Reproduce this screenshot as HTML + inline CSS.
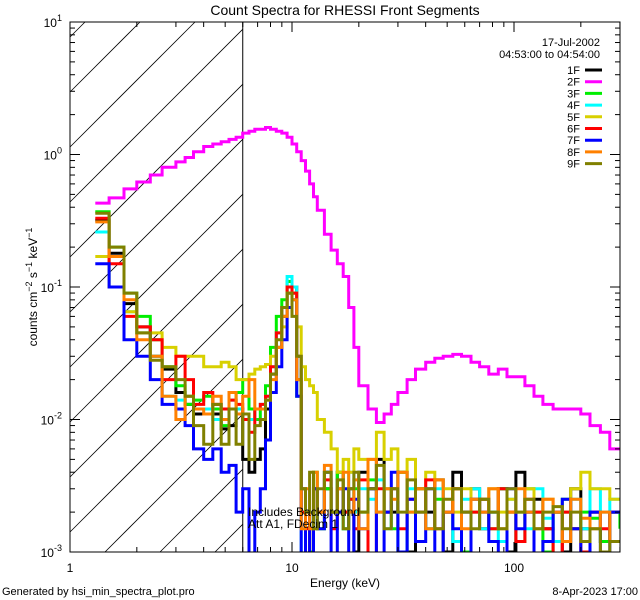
<!DOCTYPE html>
<html><head><meta charset="utf-8"><style>
html,body{margin:0;padding:0;background:#fff;width:640px;height:600px;overflow:hidden;}
svg{display:block;font-family:"Liberation Sans",sans-serif;}
</style></head><body>
<svg id="chart" width="640" height="600" viewBox="0 0 640 600" xmlns="http://www.w3.org/2000/svg">
<rect width="640" height="600" fill="#fff"/>
<defs><clipPath id="pc"><rect x="70" y="22" width="550" height="530"/></clipPath></defs>
<text x="345" y="15" font-size="14" text-anchor="middle">Count Spectra for RHESSI Front Segments</text>
<g id="hatch"></g>
<g id="series" clip-path="url(#pc)"></g>
<g id="axes"></g>
<text transform="translate(37,287) rotate(-90)" font-size="12" text-anchor="middle">counts cm<tspan dy="-5" font-size="9">−2</tspan><tspan dy="5"> s</tspan><tspan dy="-5" font-size="9">−1</tspan><tspan dy="5"> keV</tspan><tspan dy="-5" font-size="9">−1</tspan></text>
<text x="345" y="587" font-size="12" text-anchor="middle">Energy (keV)</text>
<text x="248" y="516" font-size="12">Includes Background</text>
<text x="248" y="528" font-size="12">Att A1, FDecim 1</text>
<text x="2" y="595" font-size="11">Generated by hsi_min_spectra_plot.pro</text>
<text x="638" y="595" font-size="11" text-anchor="end">8-Apr-2023 17:00</text>
<text x="600" y="46" font-size="11" text-anchor="end">17-Jul-2002</text>
<text x="600" y="58" font-size="11" text-anchor="end">04:53:00 to 04:54:00</text>
<g id="legend"></g>
</svg>
<script>
const edges=[1.3,1.5,1.75,2.0,2.3,2.6,3.0,3.3,3.6,4.0,4.4,4.8,5.2,5.6,6.0,6.4,6.8,7.2,7.6,8.0,8.5,9.0,9.5,10,10.5,11,11.5,12,12.5,13,14,15,16,17,18,19,20,22,24,26,28,30,33,36,40,44,48,53,58,64,70,77,85,93,102,112,123,135,150,165,180,200,220,245,270,300];
const seriesNames=["1F","2F","3F","4F","5F","6F","7F","8F","9F"];
const seriesColors=["#000000","#ff00ff","#00ee00","#00ffff","#d8d000","#ff0000","#0000ff","#ff8000","#808000"];
const s1F=[0.32,0.18,0.075,0.05,0.03,0.024,0.016,0.013,0.011,0.011,0.011,0.0085,0.009,0.012,0.005,0.004,0.005,0.006,0.012,0.022,0.035,0.06,0.09,0.1,0.03,0.003,0.002,0.001,0.003,0.002,0.003,0.002,0.004,0.002,0.003,0.001,0.004,0.003,0.005,0.002,0.002,0.004,0.001,0.003,0.002,0.0035,0.001,0.004,0.002,0.003,0.0015,0.002,0.003,0.001,0.004,0.002,0.0025,0.0015,0.002,0.001,0.003,0.0015,0.002,0.0012,0.002];
const s2F=[0.43,0.47,0.55,0.62,0.7,0.8,0.88,0.95,1.05,1.15,1.2,1.25,1.3,1.35,1.45,1.5,1.55,1.55,1.6,1.55,1.5,1.45,1.35,1.2,1.05,0.9,0.75,0.6,0.48,0.38,0.25,0.19,0.15,0.12,0.07,0.035,0.018,0.012,0.0095,0.011,0.013,0.016,0.02,0.024,0.027,0.029,0.03,0.031,0.03,0.027,0.025,0.022,0.024,0.021,0.021,0.018,0.015,0.013,0.012,0.012,0.012,0.011,0.009,0.008,0.006];
const s3F=[0.37,0.2,0.09,0.06,0.04,0.025,0.018,0.013,0.014,0.015,0.012,0.009,0.012,0.016,0.02,0.012,0.01,0.012,0.018,0.035,0.06,0.08,0.11,0.09,0.015,0.002,0.002,0.001,0.004,0.0015,0.003,0.002,0.004,0.0015,0.0025,0.003,0.002,0.0035,0.002,0.003,0.0015,0.004,0.002,0.003,0.0015,0.0025,0.002,0.003,0.001,0.002,0.0025,0.0015,0.003,0.002,0.0012,0.003,0.002,0.001,0.002,0.0025,0.0015,0.002,0.0018,0.0012,0.002,0.0015];
const s4F=[0.26,0.1,0.065,0.045,0.03,0.015,0.014,0.015,0.012,0.012,0.01,0.012,0.014,0.012,0.011,0.01,0.012,0.013,0.015,0.025,0.045,0.07,0.12,0.1,0.02,0.0008,0.002,0.0015,0.003,0.002,0.004,0.002,0.003,0.0015,0.004,0.002,0.003,0.0025,0.0035,0.0015,0.003,0.0008,0.003,0.002,0.0015,0.003,0.002,0.0012,0.0025,0.003,0.0015,0.002,0.0012,0.0025,0.002,0.0015,0.003,0.0018,0.0012,0.002,0.0025,0.0015,0.003,0.002,0.0025];
const s5F=[0.17,0.1,0.065,0.045,0.045,0.035,0.03,0.03,0.03,0.025,0.025,0.027,0.025,0.02,0.02,0.022,0.024,0.025,0.026,0.03,0.035,0.05,0.1,0.09,0.05,0.025,0.02,0.018,0.016,0.01,0.008,0.006,0.004,0.005,0.004,0.006,0.005,0.005,0.008,0.005,0.006,0.004,0.005,0.003,0.004,0.0035,0.003,0.002,0.003,0.0025,0.002,0.003,0.002,0.0025,0.002,0.003,0.002,0.0025,0.002,0.002,0.003,0.004,0.003,0.003,0.0025];
const s6F=[0.33,0.15,0.06,0.05,0.04,0.02,0.03,0.02,0.013,0.016,0.013,0.012,0.014,0.013,0.01,0.008,0.012,0.013,0.015,0.025,0.045,0.07,0.1,0.09,0.02,0.002,0.0015,0.0007,0.003,0.002,0.0035,0.0015,0.003,0.002,0.0025,0.0015,0.0035,0.0008,0.003,0.002,0.003,0.0015,0.0025,0.002,0.0035,0.0015,0.002,0.003,0.0008,0.002,0.0025,0.0015,0.003,0.002,0.0012,0.0025,0.002,0.0015,0.0008,0.002,0.0015,0.001,0.002,0.0015,0.002];
const s7F=[0.15,0.1,0.04,0.03,0.02,0.013,0.012,0.009,0.006,0.005,0.006,0.004,0.0045,0.002,0.003,0.0008,0.002,0.003,0.007,0.016,0.025,0.04,0.07,0.08,0.015,0.0008,0.002,0.0008,0.003,0.0015,0.004,0.0008,0.002,0.003,0.0009,0.0025,0.0015,0.003,0.0008,0.002,0.004,0.001,0.0025,0.0012,0.003,0.0009,0.002,0.0015,0.0008,0.0025,0.002,0.0012,0.0008,0.003,0.0015,0.002,0.0009,0.0012,0.002,0.0025,0.0015,0.0008,0.002,0.001,0.002];
const s8F=[0.31,0.17,0.08,0.04,0.03,0.015,0.01,0.015,0.012,0.011,0.015,0.01,0.016,0.011,0.015,0.02,0.012,0.012,0.014,0.02,0.035,0.06,0.09,0.08,0.02,0.0015,0.003,0.0015,0.004,0.002,0.0045,0.002,0.003,0.004,0.002,0.0035,0.0015,0.005,0.002,0.003,0.0025,0.004,0.002,0.003,0.0015,0.0035,0.002,0.003,0.0015,0.0025,0.002,0.003,0.0015,0.002,0.003,0.002,0.0015,0.0025,0.002,0.0012,0.0025,0.0018,0.0015,0.002,0.0012];
const s9F=[0.36,0.2,0.09,0.045,0.028,0.025,0.02,0.015,0.009,0.0065,0.013,0.0065,0.012,0.0065,0.011,0.005,0.009,0.01,0.014,0.022,0.04,0.07,0.09,0.06,0.03,0.003,0.002,0.004,0.0015,0.003,0.004,0.002,0.0035,0.0015,0.003,0.004,0.002,0.003,0.0045,0.0015,0.003,0.002,0.0035,0.002,0.003,0.0015,0.0025,0.003,0.002,0.0015,0.0025,0.002,0.0015,0.003,0.002,0.0025,0.0015,0.002,0.0022,0.0015,0.002,0.0012,0.0015,0.001,0.0012];
const xTickLabels=["1","10","100"];
const yTickExps=[1,0,-1,-2,-3];
const allSeries=[s1F,s2F,s3F,s4F,s5F,s6F,s7F,s8F,s9F];

const NS="http://www.w3.org/2000/svg";
const X0=70,X1=620,Y0=22,Y1=552,DEC=222,YDEC=132.5;
function xs(e){return X0+Math.log10(e)*DEC;}
function ys(v){return Math.min(Y1+2,Y0+(1-Math.log10(Math.max(v,1e-4)))*YDEC);}
function mk(tag,attrs,parent){const el=document.createElementNS(NS,tag);for(const k in attrs)el.setAttribute(k,attrs[k]);parent.appendChild(el);return el;}

// hatch lines (45°), clipped analytically to the hatched box
const hatch=document.getElementById('hatch');
const xe=xs(6);
for(let b=-200;b<560;b+=55){
  // line: y = Y1 - b - (x - X0)
  let xa=X0, xb=xe;
  // y within [Y0,Y1]: x between X0+(Y1-b-Y1)= X0-b and X0+(Y1-b-Y0)
  xa=Math.max(xa,X0-b); xb=Math.min(xb,X0+(Y1-b-Y0));
  if(xb<=xa)continue;
  const ln=mk('line',{x1:xa.toFixed(1),y1:(Y1-b-(xa-X0)).toFixed(1),x2:xb.toFixed(1),y2:(Y1-b-(xb-X0)).toFixed(1),stroke:'#000','stroke-width':0.8},hatch);
  
  
}
const hb=mk('line',{x1:xe,y1:Y0,x2:xe,y2:Y1,stroke:'#000','stroke-width':1},hatch);



const sg=document.getElementById('series');
allSeries.forEach((vals,si)=>{
  let d='';
  for(let i=0;i<vals.length;i++){
    const xa=xs(edges[i]).toFixed(1),xb=xs(edges[i+1]).toFixed(1),y=ys(vals[i]).toFixed(1);
    d+=(i===0?'M':'L')+xa+','+y+'L'+xb+','+y;
  }
  const p=mk('path',{d:d,fill:'none',stroke:seriesColors[si],'stroke-width':3,'stroke-linejoin':'miter'},sg);
  
  
});

const ax=document.getElementById('axes');
const fr=mk('rect',{x:X0,y:Y0,width:X1-X0,height:Y1-Y0,fill:'none',stroke:'#000','stroke-width':1},ax);


for(let dec=1;dec<=100;dec*=10){
  for(let m=1;m<10;m++){
    const e=dec*m; if(e>300)break;
    const x=xs(e), L=m===1?10:5;
    const t1=mk('line',{x1:x,y1:Y1,x2:x,y2:Y1-L,stroke:'#000'},ax);
    
    
    const t2=mk('line',{x1:x,y1:Y0,x2:x,y2:Y0+L,stroke:'#000'},ax);
    
    
  }
}
xTickLabels.forEach(lab=>{
  const t=mk('text',{x:xs(parseFloat(lab)),y:572,'font-size':12,'text-anchor':'middle'},ax);
  t.textContent=lab;
  
  
});
for(let ex=-3;ex<1;ex++){
  for(let m=1;m<10;m++){
    const y=Y0+(1-Math.log10(m*Math.pow(10,ex)))*YDEC, L=m===1?10:5;
    const t1=mk('line',{x1:X0,y1:y,x2:X0+L,y2:y,stroke:'#000'},ax);
    
    
    const t2=mk('line',{x1:X1,y1:y,x2:X1-L,y2:y,stroke:'#000'},ax);
    
    
  }
}
yTickExps.forEach(ex=>{
  const y=Y0+(1-ex)*YDEC;
  const t=mk('text',{x:62,y:y+5,'font-size':12,'text-anchor':'end'},ax);
  t.innerHTML='10<tspan dy="-6" font-size="9">'+ex+'</tspan>';
  
  
});

const lg=document.getElementById('legend');
seriesNames.forEach((n,i)=>{
  const y=70+i*11.7;
  const t=mk('text',{x:580,y:y+4,'font-size':11,'text-anchor':'end'},lg);
  t.textContent=n;
  
  
  const l=mk('line',{x1:585,y1:y,x2:602,y2:y,stroke:seriesColors[i],'stroke-width':3},lg);
  
  
});
</script>
</body></html>
